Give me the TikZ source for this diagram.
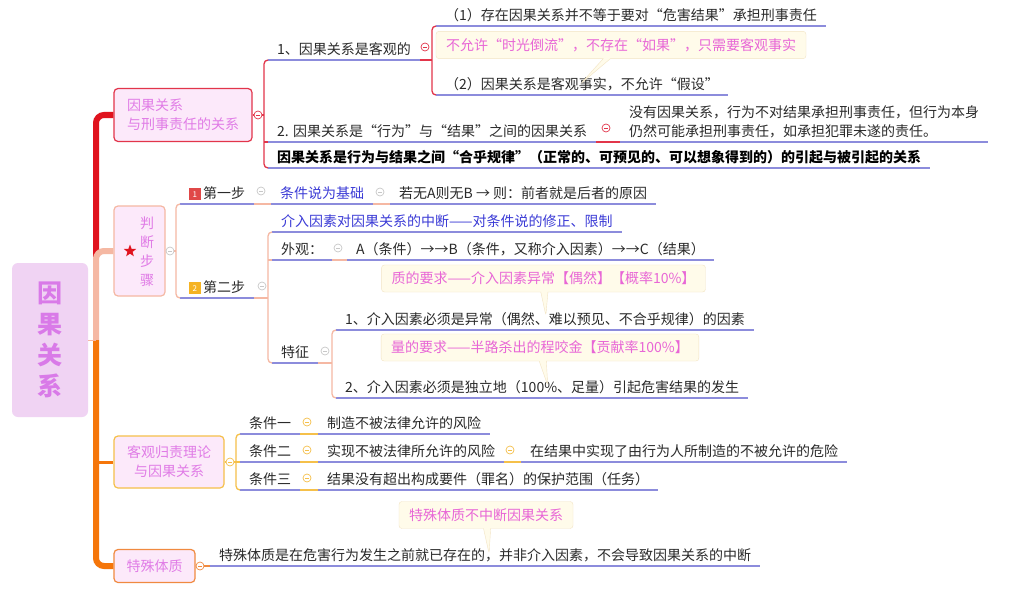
\documentclass[tikz,border=0pt]{standalone}
\usepackage{fontspec}
\setmainfont{Noto Sans CJK SC}
\usetikzlibrary{shapes.callouts,shapes.geometric}

\definecolor{trunkred}{HTML}{E0131E}
\definecolor{trunkpeach}{HTML}{F5B8A3}
\definecolor{trunkorange}{HTML}{F5760A}
\definecolor{edgeyellow}{HTML}{F5C04A}
\definecolor{edgeorange}{HTML}{F08A40}
\definecolor{edgered}{HTML}{E2354A}
\definecolor{boxfill}{HTML}{FCE9FA}
\definecolor{boxtext}{HTML}{E07BE6}
\definecolor{rootfill}{HTML}{F0D3F3}
\definecolor{roottext}{HTML}{D97AE8}
\definecolor{lineblue}{HTML}{8C8CDC}
\definecolor{notefill}{HTML}{FFFBEA}
\definecolor{noteedge}{HTML}{F2E4C4}
\definecolor{notetext}{HTML}{E866D6}
\definecolor{bluetext}{HTML}{3B3BD6}
\definecolor{textgray}{HTML}{2A2A2A}
\definecolor{foldgray}{HTML}{C8C8C8}
\definecolor{iconred}{HTML}{E04848}
\definecolor{iconyellow}{HTML}{F5B324}

\newcommand{\stepno}[2]{\raisebox{0.8pt}{\setlength{\fboxsep}{2pt}\colorbox{#1}{\makebox[7.5pt]{\rule{0pt}{7.5pt}\color{white}\fontsize{8}{8}\selectfont #2}}}}

\begin{document}
\begin{tikzpicture}[
    x=1pt, y=-1pt,
    leaf/.style={anchor=south west, inner xsep=9pt, inner ysep=4pt, text=textgray, font=\fontsize{14}{17}\selectfont,
      append after command={(\tikzlastnode.south west) edge[draw=lineblue, line width=1.1pt] (\tikzlastnode.south east)}},
    topic/.style={rectangle, draw=#1, fill=boxfill, line width=1.2pt, rounded corners=4pt, text=boxtext, font=\fontsize{14}{19}\selectfont},
    note/.style={rectangle callout, draw=noteedge, fill=notefill, rounded corners=3pt, text=notetext, inner xsep=10pt, inner ysep=7pt, font=\fontsize{14}{17}\selectfont},
    fold/.style={circle, draw=#1, fill=white, line width=0.7pt, minimum size=8pt, inner sep=0pt,
      path picture={\draw[#1, line width=0.6pt] ([xshift=-2pt]path picture bounding box.center) -- ([xshift=2pt]path picture bounding box.center);}},
    trunk/.style={line width=6pt, draw=#1, rounded corners=8pt},
    twig/.style={line width=1.3pt, draw=#1, rounded corners=4pt}
]
\path[use as bounding box, fill=white] (0,0) rectangle (1024,591);

% Root and main topics
\node[rectangle, fill=rootfill, rounded corners=6pt, minimum width=76pt, minimum height=154pt, text=roottext, align=center, font=\fontsize{25}{31}\selectfont\bfseries] (root) at (50,340) {因\\果\\关\\系};
\node[topic=edgered, minimum width=138pt, minimum height=53pt, align=left] (b1) at (183,115) {因果关系\\与刑事责任的关系};
\node[topic=trunkpeach, minimum width=51pt, minimum height=90pt] (b2) at (139.5,251) {};
\node[star, star points=5, star point ratio=2.4, fill=trunkred, minimum size=13pt, inner sep=0pt] (star) at (130,251) {};
\node[text=boxtext, align=center, font=\fontsize{14}{19}\selectfont] (b2t) at (147,252) {判\\断\\步\\骤};
\node[topic=edgeyellow, minimum width=110pt, minimum height=52pt, align=center] (b3) at (169,462) {客观归责理论\\与因果关系};
\node[topic=edgeorange, minimum width=81pt, minimum height=33pt] (b4) at (154.5,566) {特殊体质};

% Trunk
\coordinate (tk) at (96,340);
\coordinate (tkred) at (96,257);
\draw[trunk=trunkred] (tkred) -- (tk |- b1.west) -- (b1.west);
\draw[trunk=trunkpeach] (tk) -- (tk |- b2.west) -- (b2.west);
\draw[trunk=trunkorange] (tk) -- (tk |- b4.west) -- (b4.west);
\draw[line width=3pt, trunkorange] (tk |- b3.west) -- (b3.west);
\draw[line width=1pt, trunkpeach] (root.east) -- (tk);

% Bracket points
\coordinate (k1) at (264,115);
\coordinate (k11) at (432,60);
\coordinate (k2) at (176,251);
\coordinate (k3) at (268,298);
\coordinate (k4) at (332,363);
\coordinate (k5) at (236,462);

% Branch 1
\node[leaf] (c11) at (268,60) {1、因果关系是客观的};
\node[leaf] (c111) at (436,26) {（1）存在因果关系并不等于要对“危害结果”承担刑事责任};
\node[leaf] (c112) at (436,95) {（2）因果关系是客观事实，不允许“假设”};
\node[note, callout relative pointer={(-26pt,-25pt)}] (q1) at (621,45) {不允许“时光倒流”，不存在“如果”，只需要客观事实};
\node[leaf] (c12) at (268,142) {2. 因果关系是“行为”与“结果”之间的因果关系};
\node[leaf, align=left, font=\fontsize{14}{19}\selectfont] (n12) at (620,142) {没有因果关系，行为不对结果承担刑事责任，但行为本身\\仍然可能承担刑事责任，如承担犯罪未遂的责任。};
\node[leaf, font=\fontsize{14}{17}\selectfont\bfseries, text=black] (c13) at (268,168) {因果关系是行为与结果之间“合乎规律”（正常的、可预见的、可以想象得到的）的引起与被引起的关系};

\draw[twig=edgered] (b1.east) -- (k1);
\draw[twig=edgered] (c11.south west) -| (k1) |- (c13.south west);
\draw[twig=edgered] (k1 |- c12.south west) -- (c12.south west);
\draw[twig=edgered] (c11.south east) -- (k11);
\draw[twig=edgered] (c111.south west) -| (k11) |- (c112.south west);
\draw[twig=edgered] (c12.south east) -- (n12.south west);

% Branch 2
\node[leaf] (s1) at (180,204) {\stepno{iconred}{1}\,第一步};
\node[leaf, text=bluetext] (s1b) at (271,204) {条件说为基础};
\node[leaf] (s1c) at (390,204) {若无A则无B → 则：前者就是后者的原因};
\node[leaf] (s2) at (180,298) {\stepno{iconyellow}{2}\,第二步};
\node[leaf, text=bluetext] (t1) at (272,232) {介入因素对因果关系的中断——对条件说的修正、限制};
\node[leaf] (t2) at (272,260) {外观：};
\node[leaf] (t2b) at (347,260) {A（条件）→→B（条件，又称介入因素）→→C（结果）};
\node[leaf] (t3) at (272,363) {特征};
\node[leaf] (f1) at (336,330) {1、介入因素必须是异常（偶然、难以预见、不合乎规律）的因素};
\node[leaf] (f2) at (336,398) {2、介入因素必须是独立地（100\%、足量）引起危害结果的发生};
\node[note, callout relative pointer={(1.5pt,-23.5pt)}] (q2) at (543.5,278.5) {质的要求——介入因素异常【偶然】【概率10\%】};
\node[note, callout relative pointer={(5pt,-24.5pt)}] (q3) at (540,347.5) {量的要求——半路杀出的程咬金【贡献率100\%】};

\draw[twig=trunkpeach] (b2.east) -- (k2);
\draw[twig=trunkpeach] (s1.south west) -| (k2) |- (s2.south west);
\draw[twig=trunkpeach] (s1.south east) -- (s1b.south west);
\draw[twig=trunkpeach] (s1b.south east) -- (s1c.south west);
\draw[twig=trunkpeach] (s2.south east) -- (k3);
\draw[twig=trunkpeach] (t1.south west) -| (k3) |- (t3.south west);
\draw[twig=trunkpeach] (k3 |- t2.south west) -- (t2.south west);
\draw[twig=trunkpeach] (t2.south east) -- (t2b.south west);
\draw[twig=trunkpeach] (t3.south east) -- (k4);
\draw[twig=trunkpeach] (f1.south west) -| (k4) |- (f2.south west);

% Branch 3
\node[leaf] (r1) at (240,434) {条件一};
\node[leaf] (r1b) at (318,434) {制造不被法律允许的风险};
\node[leaf] (r2) at (240,462) {条件二};
\node[leaf] (r2b) at (318,462) {实现不被法律所允许的风险};
\node[leaf] (r2c) at (521,462) {在结果中实现了由行为人所制造的不被允许的危险};
\node[leaf] (r3) at (240,490) {条件三};
\node[leaf] (r3b) at (318,490) {结果没有超出构成要件（罪名）的保护范围（任务）};

\draw[twig=edgeyellow] (b3.east) -- (k5);
\draw[twig=edgeyellow] (r1.south west) -| (k5) |- (r3.south west);
\draw[twig=edgeyellow] (k5) -- (r2.south west);
\draw[twig=edgeyellow] (r1.south east) -- (r1b.south west);
\draw[twig=edgeyellow] (r2.south east) -- (r2b.south west);
\draw[twig=edgeyellow] (r2b.south east) -- (r2c.south west);
\draw[twig=edgeyellow] (r3.south east) -- (r3b.south west);

% Branch 4
\node[leaf] (p1) at (210,566) {特殊体质是在危害行为发生之前就已存在的，并非介入因素，不会导致因果关系的中断};
\node[note, callout relative pointer={(2pt,-25pt)}] (q4) at (486,515) {特殊体质不中断因果关系};
\draw[twig=edgeorange] (b4.east) -- (p1.south west);

% Fold markers
\node[fold=edgered] (d1) at (258,115) {};
\node[fold=edgered] (d11) at (425,47) {};
\node[fold=edgered] (d12) at (606,128) {};
\node[fold=foldgray] (d2) at (170,251) {};
\node[fold=foldgray] (d21) at (261,191) {};
\node[fold=foldgray] (d22) at (380,192) {};
\node[fold=foldgray] (d23) at (262,286) {};
\node[fold=foldgray] (d24) at (338,248) {};
\node[fold=foldgray] (d25) at (325,351) {};
\node[fold=edgeyellow] (d3) at (230,462) {};
\node[fold=edgeyellow] (d31) at (307,422) {};
\node[fold=edgeyellow] (d32) at (307,450) {};
\node[fold=edgeyellow] (d33) at (510,450) {};
\node[fold=edgeyellow] (d34) at (307,478) {};
\node[fold=edgeorange] (d4) at (200,566) {};

\end{tikzpicture}
\end{document}
